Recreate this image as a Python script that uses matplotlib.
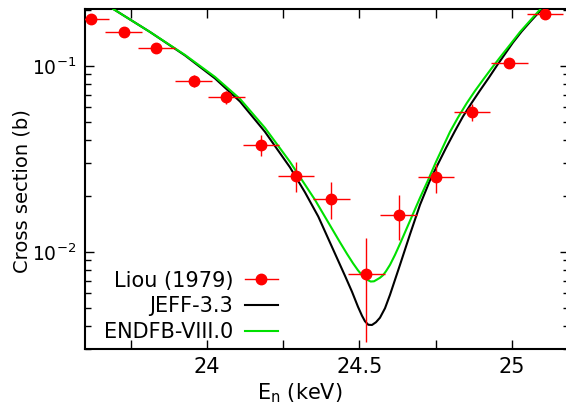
import numpy as np
import matplotlib
matplotlib.use("Agg")
import matplotlib.pyplot as plt
from matplotlib.lines import Line2D
from matplotlib.ticker import LogLocator, FixedLocator, NullFormatter

# === DONNEES ===
# Liou (1979) : points mesures
liou_e = [23.620, 23.727, 23.834, 23.956, 24.064, 24.177, 24.292,
          24.408, 24.523, 24.629, 24.752, 24.870, 24.992, 25.109]
liou_xs = [0.180, 0.153, 0.1245, 0.0831, 0.0680, 0.0376, 0.0257,
           0.01935, 0.00759, 0.01587, 0.0252, 0.0566, 0.1041, 0.1904]
liou_dx = [0.06] * 14
liou_dy = [0.006, 0.006, 0.006, 0.006, 0.0055, 0.0047, 0.0047,
           0.0043, 0.0043, 0.0043, 0.0045, 0.006, 0.006, 0.006]

# JEFF-3.3
jeff_e = [23.6928, 23.8133, 23.9281, 24.0265, 24.1085, 24.1906, 24.2726, 24.3218,
          24.3654, 24.4146, 24.4530, 24.4760, 24.4957, 24.5088, 24.5186, 24.5295,
          24.5416, 24.5547, 24.5678, 24.5843, 24.6007, 24.6171, 24.6335, 24.6663,
          24.6991, 24.7319, 24.7591, 24.7844, 24.8139, 24.8402, 24.8687, 24.8959,
          24.9255, 24.9517, 24.9780, 25.0042, 25.0321, 25.0600, 25.0862, 25.0993]
jeff_xs = [0.2025, 0.1523, 0.1139, 0.0857, 0.0644, 0.0442, 0.02847, 0.02089,
           0.01548, 0.01025, 0.00743, 0.00610, 0.00506, 0.00453, 0.00423, 0.00405,
           0.00404, 0.00418, 0.00442, 0.00497, 0.00587, 0.00707, 0.00851, 0.01242,
           0.01789, 0.02424, 0.02990, 0.0362, 0.0447, 0.0535, 0.0633, 0.0738,
           0.0867, 0.1006, 0.1160, 0.1337, 0.1529, 0.1724, 0.1920, 0.2025]

# ENDF/B-VIII.0
endf_e = [23.6928, 23.8133, 23.9281, 24.0265, 24.1085, 24.1906, 24.2726, 24.3546,
          24.4366, 24.4596, 24.4793, 24.4957, 24.5088, 24.5219, 24.5373, 24.5482,
          24.5580, 24.5678, 24.5777, 24.5875, 24.6007, 24.6171, 24.6335, 24.6663,
          24.6991, 24.7253, 24.7516, 24.7975, 24.8238, 24.8523, 24.8795, 24.9068,
          24.9337, 24.9615, 24.9944, 25.0272, 25.0534, 25.0820, 25.0944]
endf_xs = [0.2025, 0.1523, 0.1146, 0.0873, 0.0665, 0.0464, 0.03047, 0.01904,
           0.01125, 0.00975, 0.00868, 0.00795, 0.00749, 0.00713, 0.00692, 0.00694,
           0.00709, 0.00725, 0.00748, 0.00786, 0.00851, 0.00963, 0.01104, 0.01468,
           0.01952, 0.02424, 0.03047, 0.0442, 0.0528, 0.0630, 0.0734, 0.0846,
           0.0970, 0.1111, 0.1300, 0.1523, 0.1702, 0.1920, 0.2025]

x_ticks = [23.75, 24.0, 24.25, 24.5, 24.75, 25.0]
x_tick_labels = ["", "24", "", "24.5", "", "25"]

# === TRACE ===
fig = plt.figure(figsize=(5.66, 4.09), dpi=100)
ax = fig.add_axes([85 / 566, 1 - 349 / 409, 484 / 566, 340 / 409])

ax.plot(jeff_e, jeff_xs, color="black", lw=1.5, zorder=3)
ax.plot(endf_e, endf_xs, color="#00e000", lw=1.5, zorder=4)
ax.errorbar(liou_e, liou_xs, xerr=liou_dx, yerr=liou_dy, fmt="o", color="red",
            ms=7.5, elinewidth=1.0, capsize=0, zorder=5)

ax.set_yscale("log")
ax.set_xlim(23.6, 25.188)
ax.set_ylim(0.003, 0.2025)

ax.xaxis.set_major_locator(FixedLocator(x_ticks))
ax.set_xticklabels(x_tick_labels)
ax.yaxis.set_major_locator(LogLocator(base=10))
ax.yaxis.set_minor_locator(LogLocator(base=10, subs=np.arange(2, 10)))
ax.yaxis.set_minor_formatter(NullFormatter())

ax.tick_params(which="both", direction="in", top=True, right=True, width=1.0)
ax.tick_params(which="major", length=6.5, pad=6)
ax.tick_params(which="minor", length=4.5)
ax.tick_params(axis="x", labelsize=15)
ax.tick_params(axis="y", labelsize=13.5)
for s in ax.spines.values():
    s.set_linewidth(1.5)

ax.set_ylabel("Cross section (b)", fontsize=14)
ax.set_xlabel("E$_\\mathregular{n}$ (keV)", fontsize=15)
ax.yaxis.set_label_coords(-0.11, 0.465)
ax.xaxis.set_label_coords(0.444, -0.095)

handles = [
    Line2D([], [], color="red", marker="o", ms=7.5, lw=1.0),
    Line2D([], [], color="black", lw=1.5),
    Line2D([], [], color="#00e000", lw=1.5),
]
labels = ["Liou (1979)", "JEFF-3.3", "ENDFB-VIII.0"]
fig.legend(handles, labels, loc="lower right", bbox_to_anchor=(278 / 566, (409 - 342) / 409),
           frameon=False, markerfirst=False, fontsize=15, handlelength=1.6,
           handletextpad=0.55, borderpad=0, borderaxespad=0, labelspacing=0.27)

fig.savefig("out.png", dpi=100)
